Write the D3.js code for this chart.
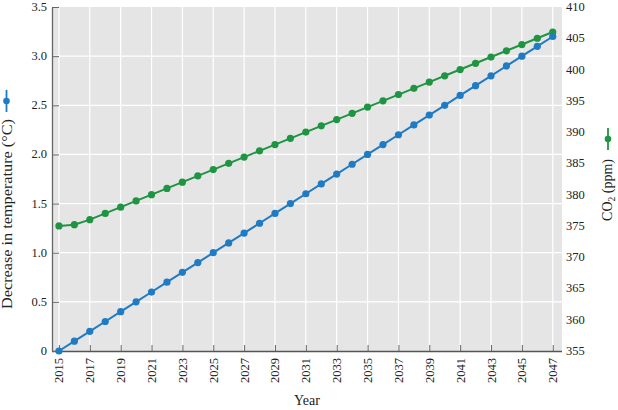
<!DOCTYPE html>
<html>
<head>
<meta charset="utf-8">
<script src="https://cdn.jsdelivr.net/npm/d3@7.9.0/dist/d3.min.js"></script>
<style>
  body { margin: 0; background: #fff; }
  text { font-family: "Liberation Serif", serif; fill: #222; }
</style>
</head>
<body>
<svg id="chart" width="618" height="410"></svg>
<script>
const years = d3.range(2015, 2048);
const tempDecrease = [0, 0.1, 0.2, 0.3, 0.4, 0.5, 0.6, 0.7, 0.8, 0.9, 1.0, 1.1, 1.2, 1.3, 1.4, 1.5,
  1.6, 1.7, 1.8, 1.9, 2.0, 2.1, 2.2, 2.3, 2.4, 2.5, 2.6, 2.7, 2.8, 2.9, 3.0, 3.1, 3.2];
const co2 = [375, 375.2, 376, 377, 378, 379, 380, 381, 382, 383, 384, 385, 386, 387, 388, 389,
  390, 391, 392, 393, 394, 395, 396, 397, 398, 399, 400, 401, 402, 403, 404, 405, 406];
const yearTicks = d3.range(2015, 2048, 2);
const tempTicks = [0, 0.5, 1.0, 1.5, 2.0, 2.5, 3.0, 3.5];
const co2Ticks = d3.range(355, 411, 5);

const blue = '#1f7bc4', green = '#1f9443';
const m = { left: 52, right: 56, top: 7, bottom: 59 };
const W = 618, H = 410;

const svg = d3.select('#chart');

let x = d3.scaleLinear().domain([2014.55, 2047.6]).range([m.left, W - m.right]);
let yT = d3.scaleLinear().domain([0, 3.5]).range([H - m.bottom, m.top]);
let yC = d3.scaleLinear().domain([355, 410]).range([H - m.bottom, m.top]);

// panel
svg.append('rect')
  .attr('x', m.left).attr('y', m.top)
  .attr('width', W - m.right - m.left).attr('height', H - m.bottom - m.top)
  .attr('fill', '#e5e5e5');

// grid
svg.append('g').selectAll('line')
  .data(yearTicks).enter().append('line')
  .attr('x1', d => x(d)).attr('x2', d => x(d))
  .attr('y1', m.top).attr('y2', H - m.bottom)
  .attr('stroke', '#fff').attr('stroke-width', 1.2);
svg.append('g').selectAll('line')
  .data(tempTicks.slice(1, -1)).enter().append('line')
  .attr('x1', m.left).attr('x2', W - m.right)
  .attr('y1', d => yT(d)).attr('y2', d => yT(d))
  .attr('stroke', '#fff').attr('stroke-width', 1.2);

// axes
let xAxis = svg.append('g')
  .attr('transform', `translate(0,${H - m.bottom})`)
  .call(d3.axisTop(x).tickValues(yearTicks).tickFormat(d3.format('d')).tickSize(6).tickSizeOuter(0));
xAxis.select('.domain').remove();
xAxis.selectAll('.tick text').remove();
xAxis.selectAll('.tick line').attr('stroke', '#666');
svg.append('line')
  .attr('x1', m.left).attr('x2', W - m.right)
  .attr('y1', H - m.bottom + 0.5).attr('y2', H - m.bottom + 0.5)
  .attr('stroke', '#555').attr('stroke-width', 1.3);

svg.append('g').selectAll('text')
  .data(yearTicks).enter().append('text')
  .attr('transform', d => `translate(${x(d) + 4.5},${H - m.bottom + 7}) rotate(-90)`)
  .attr('text-anchor', 'end')
  .attr('font-size', 12.5)
  .text(d => d);

let yAxisL = svg.append('g')
  .attr('transform', `translate(${m.left},0)`)
  .call(d3.axisRight(yT).tickValues(tempTicks).tickFormat(d => d === 0 ? '0' : d3.format('.1f')(d)).tickSize(7).tickSizeOuter(0));
yAxisL.select('.domain').attr('stroke', '#666').attr('stroke-width', 1.3);
yAxisL.selectAll('.tick line').attr('stroke', '#666');
yAxisL.selectAll('.tick text').remove();
svg.append('g').selectAll('text')
  .data(tempTicks).enter().append('text')
  .attr('x', m.left - 5).attr('y', d => yT(d) + 4)
  .attr('text-anchor', 'end').attr('font-size', 12.5)
  .text(d => d === 0 ? '0' : d3.format('.1f')(d));

svg.append('g').selectAll('text')
  .data(co2Ticks).enter().append('text')
  .attr('x', W - m.right + 4).attr('y', d => yC(d) + 4)
  .attr('text-anchor', 'start').attr('font-size', 12.5)
  .text(d => d);

// series
function drawSeries(values, yScale, color) {
  let pts = years.map((yr, i) => [yr, values[i]]);
  let line = d3.line().x(d => x(d[0])).y(d => yScale(d[1]));
  svg.append('path').datum(pts)
    .attr('d', line).attr('fill', 'none')
    .attr('stroke', color).attr('stroke-width', 2);
  svg.append('g').selectAll('circle')
    .data(pts).enter().append('circle')
    .attr('cx', d => x(d[0])).attr('cy', d => yScale(d[1]))
    .attr('r', 3.6).attr('fill', color);
}
drawSeries(co2, yC, green);
drawSeries(tempDecrease, yT, blue);

// axis titles
svg.append('text')
  .attr('x', (m.left + W - m.right) / 2).attr('y', 405)
  .attr('text-anchor', 'middle').attr('font-size', 14)
  .text('Year');

svg.append('text')
  .attr('transform', 'translate(12,214) rotate(-90)')
  .attr('text-anchor', 'middle').attr('font-size', 14)
  .attr('textLength', 190).attr('lengthAdjust', 'spacingAndGlyphs')
  .text('Decrease in temperature (°C)');

let co2Title = svg.append('text')
  .attr('transform', 'translate(612,190) rotate(-90)')
  .attr('text-anchor', 'middle').attr('font-size', 14);
co2Title.append('tspan').text('CO');
co2Title.append('tspan').attr('font-size', 9.5).attr('dy', 3).text('2');
co2Title.append('tspan').attr('dy', -3).text(' (ppm)');

// legend keys beside titles
function key(cx, cy, color) {
  svg.append('line')
    .attr('x1', cx).attr('x2', cx).attr('y1', cy - 11).attr('y2', cy + 11)
    .attr('stroke', color).attr('stroke-width', 1.8);
  svg.append('circle').attr('cx', cx).attr('cy', cy).attr('r', 3.3).attr('fill', color);
}
key(6.5, 101, blue);
key(608, 139, green);
</script>
</body>
</html>
